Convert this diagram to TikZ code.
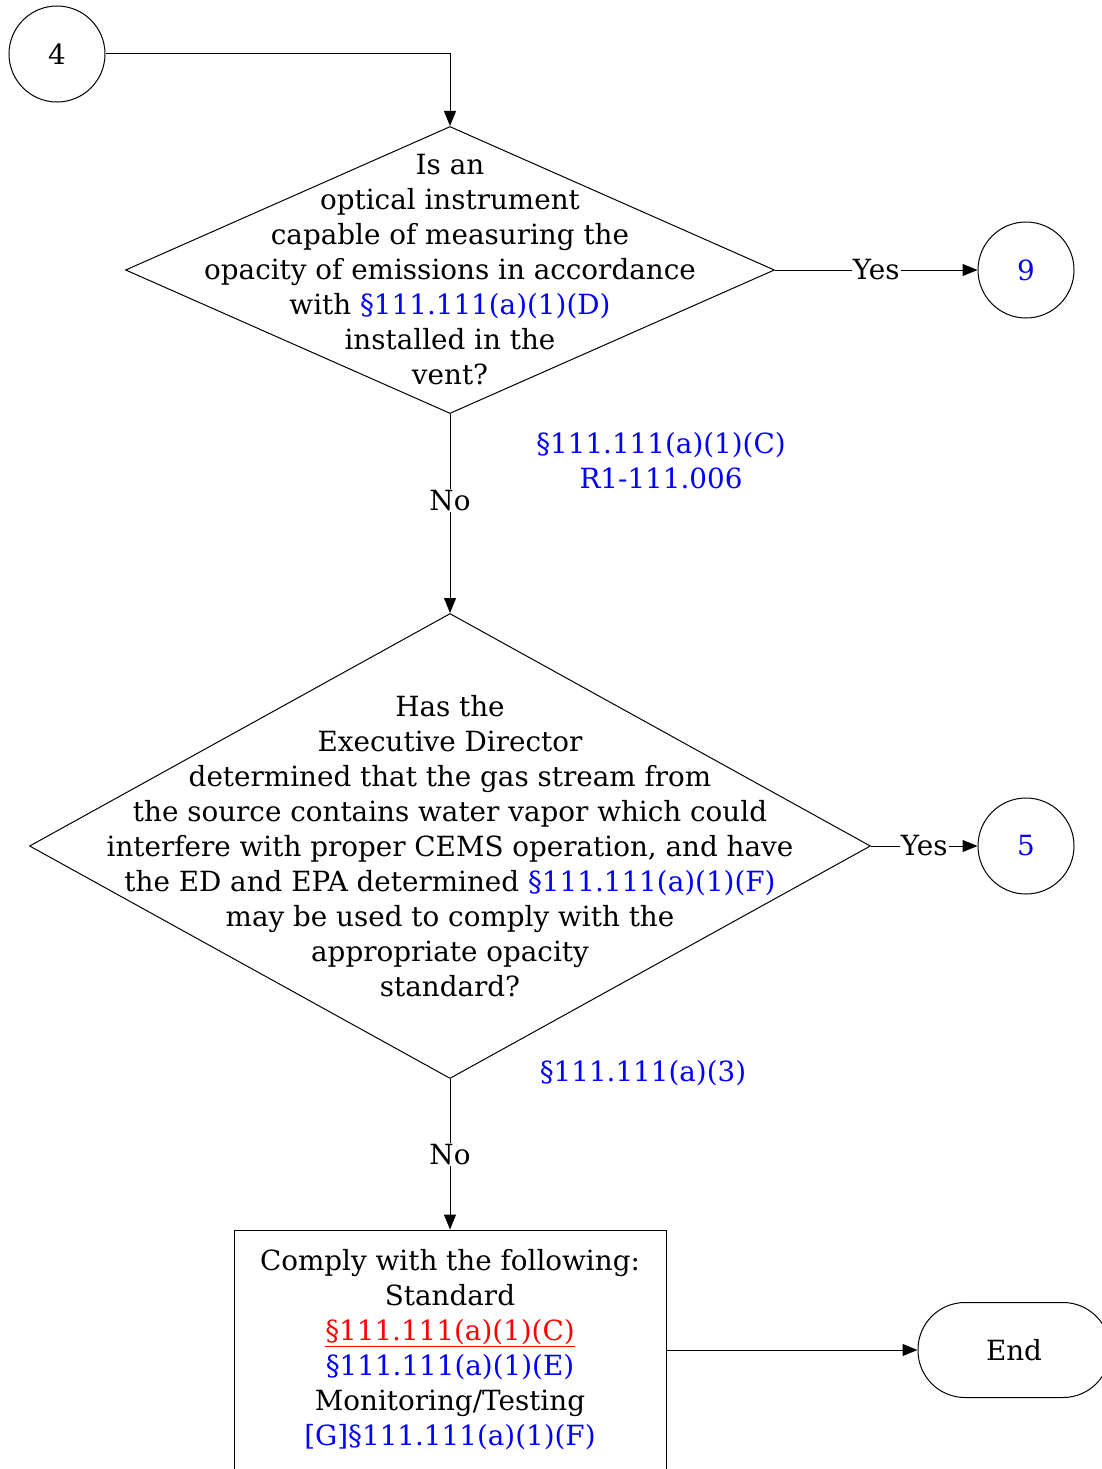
\documentclass[tikz,border=0pt]{standalone}
\usepackage{fontspec}
\setmainfont{DejaVu Serif}
\usepackage{xcolor}
\usetikzlibrary{shapes.geometric,arrows.meta}
\definecolor{refblue}{RGB}{0,0,255}
\definecolor{refred}{RGB}{255,0,0}

\begin{document}
\begin{tikzpicture}[x=1pt,y=-1pt,line width=1pt,
    every node/.style={font=\fontsize{27.8pt}{35pt}\selectfont},
    conn/.style={circle,draw,minimum size=96pt,inner sep=0pt},
    decision/.style={diamond,draw,inner sep=0pt},
    txt/.style={align=center,inner sep=0pt},
    flow/.style={-{Triangle[length=15pt,width=12pt]}},
    lbl/.style={fill=white,inner sep=1pt}]
      \clip (0,0) rectangle (1102,1469);

      % Connecteurs
      \node[conn] (c4) at (57,54) {4};
      \node[conn,text=refblue] (c9) at (1026,270) {9};
      \node[conn,text=refblue] (c5) at (1026,846) {5};

      % Questions
      \node[decision,minimum width=649pt,minimum height=287pt] (q1) at (450,270) {};
      \node[txt] (t1) at (q1) {Is an\\optical instrument\\capable of measuring the\\opacity of emissions in accordance\\with {\color{refblue}§111.111(a)(1)(D)}\\installed in the\\vent?};
      \node[txt,text=refblue] (r1) at (661,461) {§111.111(a)(1)(C)\\R1-111.006};

      \node[decision,minimum width=841pt,minimum height=465pt] (q2) at (450,846) {};
      \node[txt] (t2) at (q2) {Has the\\Executive Director\\determined that the gas stream from\\the source contains water vapor which could\\interfere with proper CEMS operation, and have\\the ED and EPA determined {\color{refblue}§111.111(a)(1)(F)}\\may be used to comply with the\\appropriate opacity\\standard?};
      \node[txt,text=refblue] (r2) at (643,1073) {§111.111(a)(3)};

      % Action
      \node[draw,minimum width=432pt,minimum height=240pt] (act) at (450,1350) {};
      \node[txt] (t3) at (act) {Comply with the following:\\Standard\\{\color{refred}\underline{§111.111(a)(1)(C)}}\\{\color{refblue}§111.111(a)(1)(E)}\\Monitoring/Testing\\{\color{refblue}[G]§111.111(a)(1)(F)}};
      \node[draw,rounded corners=47pt,minimum width=192pt,minimum height=95pt] (end) at (1014,1350) {End};

      % Fleches
      \draw[flow] (c4) -| (q1.north);
      \draw[flow] (q1.east) -- node[lbl] {Yes} (c9);
      \draw[flow] (q1.south) -- node[lbl,pos=0.435] {No} (q2.north);
      \draw[flow] (q2.east) -- node[lbl] {Yes} (c5);
      \draw[flow] (q2.south) -- node[lbl] {No} (act);
      \draw[flow] (act) -- (end);
    \end{tikzpicture}
\end{document}
